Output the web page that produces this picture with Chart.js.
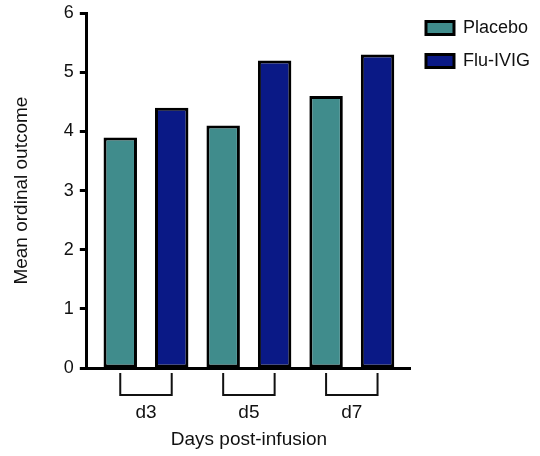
<!DOCTYPE html>
<html>
<head>
<meta charset="utf-8">
<script src="https://cdn.jsdelivr.net/npm/chart.js@4/dist/chart.umd.min.js"></script>
<style>
  html, body { margin: 0; padding: 0; background: #fff; }
  #wrap { width: 540px; height: 456px; }
</style>
</head>
<body>
<div id="wrap"><canvas id="chart" width="540" height="456"></canvas></div>
<script>
// values
const categories = ['d3', 'd5', 'd7'];
const placebo = [3.9, 4.1, 4.6];
const fluIvig = [4.4, 5.2, 5.3];
const yTickValues = [0, 1, 2, 3, 4, 5, 6];

// each group sits at 1, 3, 5 on a linear x scale
const groupPos = categories.map((c, i) => 2 * i + 1);

const FONT = "'Liberation Sans', Arial, sans-serif";
const INK = '#111111';

// brackets under each pair of bars
const bracketPlugin = {
  id: 'brackets',
  afterDraw(chart) {
    const ctx = chart.ctx;
    const x = chart.scales.x;
    const top = chart.chartArea.bottom + 5;
    const bottom = chart.chartArea.bottom + 27;
    ctx.save();
    ctx.strokeStyle = INK;
    ctx.lineWidth = 2;
    groupPos.forEach((g) => {
      const x1 = x.getPixelForValue(g - 0.5);
      const x2 = x.getPixelForValue(g + 0.5);
      ctx.beginPath();
      ctx.moveTo(x1, top);
      ctx.lineTo(x1, bottom);
      ctx.lineTo(x2, bottom);
      ctx.lineTo(x2, top);
      ctx.stroke();
    });
    ctx.restore();
  }
};

const ctx = document.getElementById('chart').getContext('2d');
new Chart(ctx, {
  type: 'bar',
  data: {
    datasets: [
      {
        label: 'Placebo',
        data: placebo.map((v, i) => ({ x: groupPos[i], y: v })),
        backgroundColor: '#408C8C',
        borderColor: '#000000',
        borderWidth: 3,
        borderSkipped: false,
        categoryPercentage: 1.0,
        barPercentage: 0.65
      },
      {
        label: 'Flu-IVIG',
        data: fluIvig.map((v, i) => ({ x: groupPos[i], y: v })),
        backgroundColor: '#0A1986',
        borderColor: '#000000',
        borderWidth: 3,
        borderSkipped: false,
        categoryPercentage: 1.0,
        barPercentage: 0.65
      }
    ]
  },
  options: {
    responsive: false,
    animation: false,
    layout: { padding: { top: 4, left: 10, right: 0, bottom: 5 } },
    plugins: {
      tooltip: { enabled: false },
      legend: {
        position: 'right',
        align: 'start',
        labels: {
          boxWidth: 28,
          boxHeight: 13,
          padding: 15,
          color: INK,
          font: { family: FONT, size: 18 }
        }
      }
    },
    scales: {
      x: {
        type: 'linear',
        min: -0.15,
        max: 6.15,
        offset: false,
        grid: { display: false, drawTicks: false },
        border: { display: true, color: '#000000', width: 3 },
        afterBuildTicks(scale) {
          scale.ticks = groupPos.map((v) => ({ value: v }));
        },
        afterFit(scale) {
          scale.height = 83;
        },
        ticks: {
          autoSkip: false,
          maxRotation: 0,
          padding: 33,
          color: INK,
          font: { family: FONT, size: 19 },
          callback: (value) => categories[(value - 1) / 2]
        },
        title: {
          display: true,
          text: 'Days post-infusion',
          color: INK,
          font: { family: FONT, size: 19 },
          padding: { top: 4, bottom: 0 }
        }
      },
      y: {
        min: 0,
        max: 6,
        afterBuildTicks(scale) {
          scale.ticks = yTickValues.map((v) => ({ value: v }));
        },
        grid: {
          display: true,
          drawOnChartArea: false,
          drawTicks: true,
          tickLength: 7,
          tickWidth: 3,
          tickColor: '#000000'
        },
        border: { display: true, color: '#000000', width: 3 },
        ticks: {
          padding: 6,
          color: INK,
          font: { family: FONT, size: 18, lineHeight: 0.8 }
        },
        title: {
          display: true,
          text: 'Mean ordinal outcome',
          color: INK,
          font: { family: FONT, size: 19 },
          padding: { top: 0, bottom: 25 }
        }
      }
    }
  },
  plugins: [bracketPlugin]
});
</script>
</body>
</html>
